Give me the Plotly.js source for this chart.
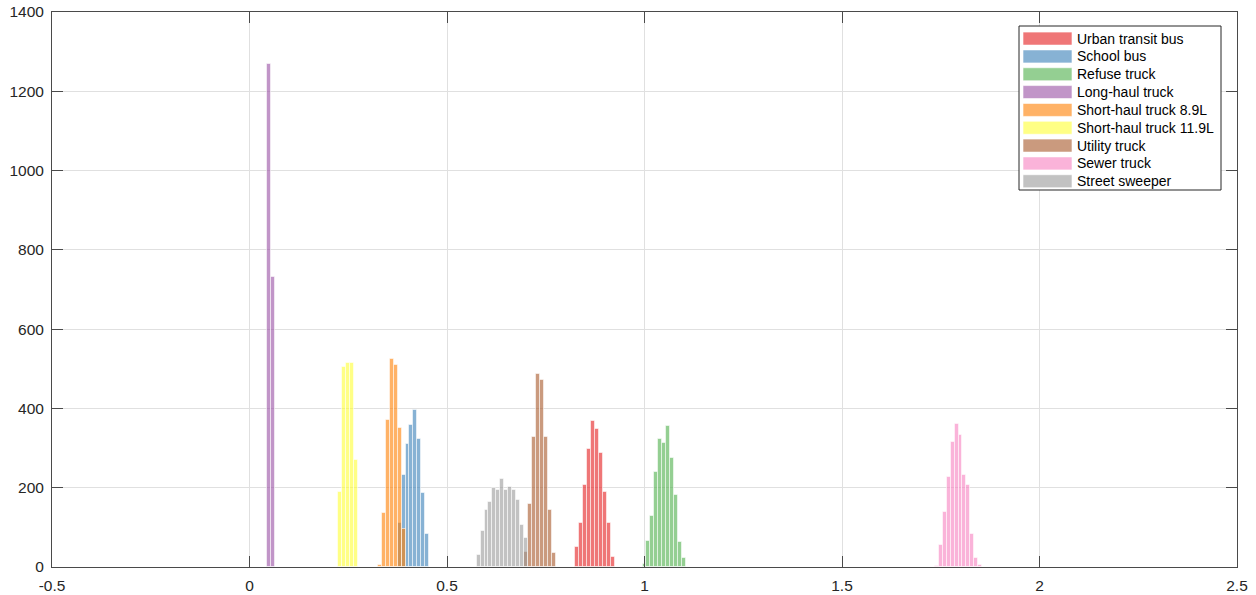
<!DOCTYPE html>
<html><head><meta charset="utf-8">
<script src="https://cdn.plot.ly/plotly-3.0.1.min.js"></script>
<style>html,body{margin:0;padding:0;background:#fff}#chart{width:1256px;height:595px}</style>
</head><body><div id="chart"></div>
<script>
// ---- Data (bin centres and counts) ----
const seriesNames = ['Urban transit bus','School bus','Refuse truck','Long-haul truck','Short-haul truck 8.9L','Short-haul truck 11.9L','Utility truck','Sewer truck','Street sweeper'];
const seriesColors = ['#e41a1c','#377eb8','#4daf4a','#984ea3','#ff7f00','#ffff33','#a65628','#f781bf','#999999'];

const urbanBusX = [0.83,0.84,0.85,0.86,0.87,0.88,0.89,0.90,0.91,0.92];
const urbanBusY = [51,111,207,297,368,349,287,189,110,24];

const schoolBusX = [0.38,0.39,0.40,0.41,0.42,0.43,0.44,0.45];
const schoolBusY = [110,231,311,357,396,322,187,83];

const refuseX = [1.00,1.01,1.02,1.03,1.04,1.05,1.06,1.07,1.08,1.09,1.10];
const refuseY = [8,66,129,240,323,313,355,276,181,62,22];

const longHaulX = [0.05,0.06];
const longHaulY = [1268,732];

const short89X = [0.33,0.34,0.35,0.36,0.37,0.38,0.39];
const short89Y = [5,136,370,524,509,350,97];

const short119X = [0.23,0.24,0.25,0.26,0.27];
const short119Y = [190,505,515,515,271];

const utilityX = [0.70,0.71,0.72,0.73,0.74,0.75,0.76,0.77];
const utilityY = [39,159,329,487,471,327,145,35];

const sewerX = [1.74,1.75,1.76,1.77,1.78,1.79,1.80,1.81,1.82,1.83,1.84,1.85];
const sewerY = [3,55,140,227,316,361,332,233,206,83,23,6];

const sweeperX = [0.58,0.59,0.60,0.61,0.62,0.63,0.64,0.65,0.66,0.67,0.68,0.69,0.70];
const sweeperY = [30,91,145,165,199,193,223,194,203,193,168,105,73];

const xTickVals = [-0.5,0,0.5,1,1.5,2,2.5];
const yTickVals = [0,200,400,600,800,1000,1200,1400];
const binWidth = 0.01;

// ---- Build ----
const seriesX = [urbanBusX,schoolBusX,refuseX,longHaulX,short89X,short119X,utilityX,sewerX,sweeperX];
const seriesY = [urbanBusY,schoolBusY,refuseY,longHaulY,short89Y,short119Y,utilityY,sewerY,sweeperY];

function rgba(hex, a){
  const r=parseInt(hex.slice(1,3),16), g=parseInt(hex.slice(3,5),16), b=parseInt(hex.slice(5,7),16);
  return `rgba(${r},${g},${b},${a})`;
}

const traces = seriesNames.map((name,i)=>({
  type:'bar', name:name, x:seriesX[i], y:seriesY[i], width:binWidth,
  marker:{color:rgba(seriesColors[i],0.6), line:{color:'rgba(255,255,255,0.55)', width:1}},
  showlegend:false, hoverinfo:'x+y+name'
}));

// plot area in pixels
const L=52, R=1237, T=12, B=567;
const px = v => (v-L)/(R-L);
const py = v => (B-v)/(B-T);

const shapes = [];
const annotations = [];
// legend box
shapes.push({type:'rect', xref:'paper', yref:'paper', x0:px(1019), x1:px(1221), y0:py(190), y1:py(26),
  line:{color:'#262626', width:1}, fillcolor:'#ffffff', layer:'above'});
seriesNames.forEach((name,i)=>{
  const cy = 38.6 + i*17.83;
  shapes.push({type:'rect', xref:'paper', yref:'paper', x0:px(1023), x1:px(1072), y0:py(cy+6.5), y1:py(cy-6.5),
    line:{color:'rgba(255,255,255,0.6)', width:1}, fillcolor:rgba(seriesColors[i],0.6), layer:'above'});
  annotations.push({xref:'paper', yref:'paper', x:px(1075), y:py(cy), xanchor:'left', yanchor:'middle',
    text:name, showarrow:false, font:{family:'Liberation Sans, Arial, sans-serif', size:14, color:'#000'}});
});

const axisCommon = {
  showline:true, linecolor:'#4a4a4a', linewidth:1, mirror:'ticks',
  ticks:'inside', ticklen:11, tickwidth:1, tickcolor:'#4a4a4a',
  showgrid:true, gridcolor:'#e0e0e0', gridwidth:1, zeroline:false,
  tickfont:{family:'Liberation Sans, Arial, sans-serif', size:15.5, color:'#262626'}
};

const layout = {
  width:1256, height:595,
  margin:{l:L, r:1256-R, t:T, b:595-B, pad:0},
  paper_bgcolor:'#ffffff', plot_bgcolor:'#ffffff',
  barmode:'overlay', bargap:0,
  showlegend:false,
  xaxis:Object.assign({}, axisCommon, {range:[-0.5,2.5], tickvals:xTickVals, ticktext:xTickVals.map(String), ticklabelstandoff:4}),
  yaxis:Object.assign({}, axisCommon, {range:[0,1400], tickvals:yTickVals, ticktext:yTickVals.map(String), ticklabelstandoff:4}),
  shapes:shapes, annotations:annotations,
  font:{family:'Liberation Sans, Arial, sans-serif'}
};

Plotly.newPlot('chart', traces, layout, {displayModeBar:false, staticPlot:false});
</script>
</body></html>
